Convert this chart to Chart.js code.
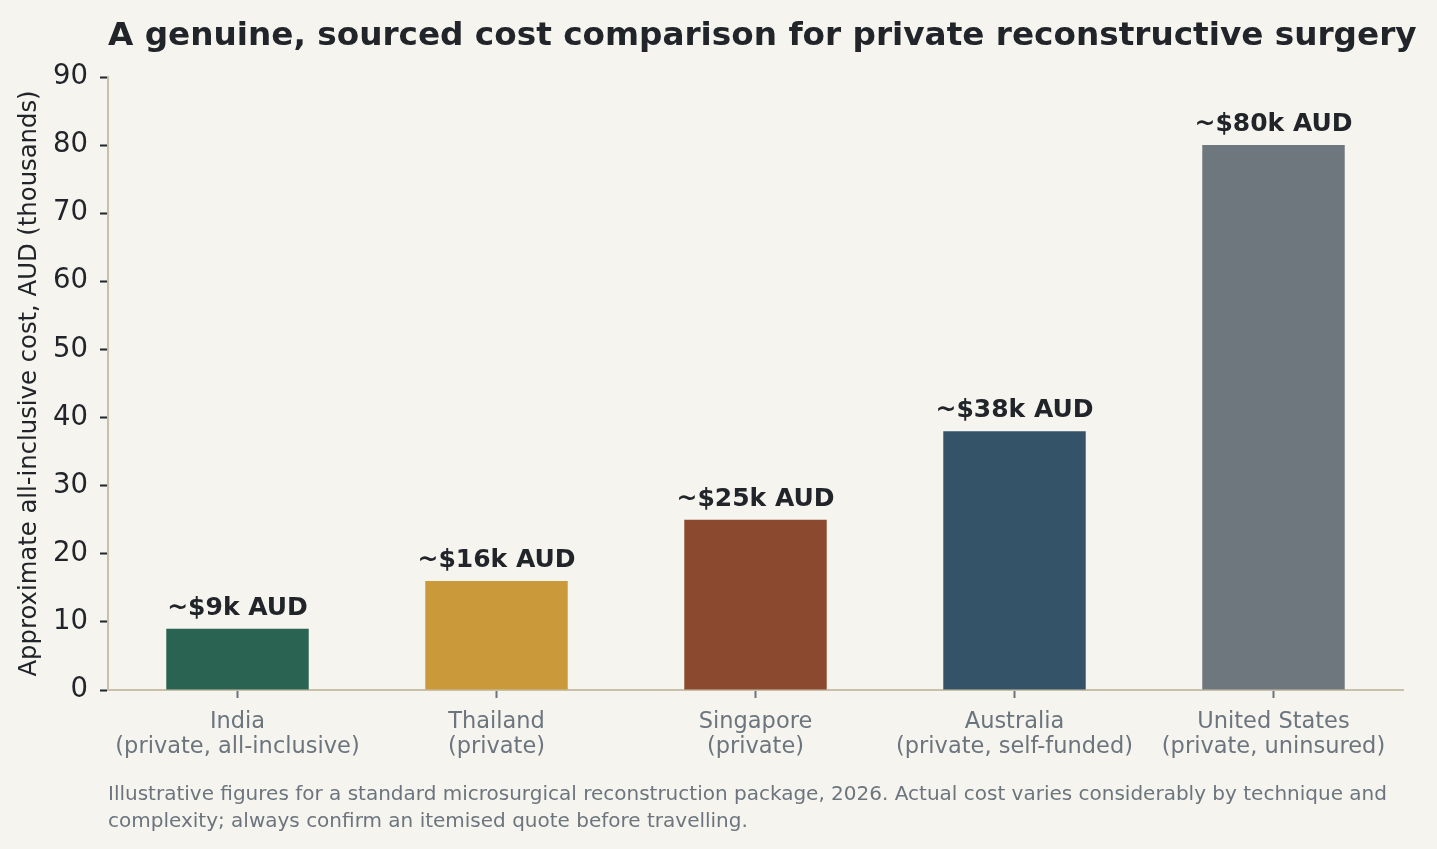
<!DOCTYPE html>
<html lang="en">
<head>
    <meta charset="UTF-8">
    <title>Reconstructive surgery cost comparison</title>
    <style>
        html, body {
            margin: 0;
            padding: 0;
            background-color: #f5f4ef;
        }
        #chart-container {
            width: 1437px;
            height: 849px;
            position: relative;
        }
    </style>
    <script src="https://cdn.jsdelivr.net/npm/chart.js"></script>
</head>
<body>
    <div id="chart-container">
        <canvas id="cost-chart"></canvas>
    </div>
    <script>
        // data
        const countries = [
            ['India', '(private, all-inclusive)'],
            ['Thailand', '(private)'],
            ['Singapore', '(private)'],
            ['Australia', '(private, self-funded)'],
            ['United States', '(private, uninsured)']
        ];
        const costs = [9, 16, 25, 38, 80];
        const costLabels = ['~$9k AUD', '~$16k AUD', '~$25k AUD', '~$38k AUD', '~$80k AUD'];
        const barColors = ['#2a6352', '#c9993a', '#8b4a2f', '#345369', '#6e767e'];
        const yMax = 90;
        const yStep = 10;

        const titleText = 'A genuine, sourced cost comparison for private reconstructive surgery';
        const noteLines = [
            'Illustrative figures for a standard microsurgical reconstruction package, 2026. Actual cost varies considerably by technique and',
            'complexity; always confirm an itemised quote before travelling.'
        ];

        const FONT = "'DejaVu Sans', sans-serif";

        // title, bar value labels and footnote
        const annotations = {
            id: 'annotations',
            afterDatasetsDraw(chart) {
                const ctx = chart.ctx;
                ctx.save();
                ctx.fillStyle = '#212529';
                ctx.font = 'bold 25px ' + FONT;
                ctx.textAlign = 'center';
                ctx.textBaseline = 'alphabetic';
                chart.getDatasetMeta(0).data.forEach(function(bar, i) {
                    ctx.fillText(costLabels[i], bar.x, bar.y - 14);
                });
                ctx.restore();
            },
            afterDraw(chart) {
                const ctx = chart.ctx;
                const left = chart.chartArea.left;
                ctx.save();
                ctx.textAlign = 'left';
                ctx.textBaseline = 'alphabetic';
                ctx.fillStyle = '#212529';
                ctx.font = 'bold 32.7px ' + FONT;
                ctx.fillText(titleText, left, 45);
                ctx.fillStyle = '#6c757d';
                ctx.font = '20px ' + FONT;
                noteLines.forEach(function(line, i) {
                    ctx.fillText(line, left, 800 + i * 27);
                });
                ctx.restore();
            }
        };

        const ctx = document.getElementById('cost-chart').getContext('2d');
        const chart = new Chart(ctx, {
            type: 'bar',
            data: {
                labels: countries,
                datasets: [{
                    data: costs,
                    backgroundColor: barColors,
                    borderWidth: 0,
                    barPercentage: 0.55,
                    categoryPercentage: 1.0
                }]
            },
            options: {
                responsive: true,
                maintainAspectRatio: false,
                animation: false,
                layout: {
                    padding: { left: 0, right: 34, top: 77, bottom: 0 }
                },
                plugins: {
                    legend: { display: false },
                    tooltip: { enabled: false }
                },
                scales: {
                    x: {
                        offset: true,
                        grid: {
                            display: true,
                            offset: false,
                            drawOnChartArea: false,
                            drawTicks: true,
                            tickLength: 8,
                            tickWidth: 2,
                            tickColor: '#6c757d'
                        },
                        border: { color: '#c9c0a9', width: 2 },
                        ticks: {
                            color: '#6c757d',
                            font: { family: FONT, size: 22.5, lineHeight: 1.13 },
                            padding: 11,
                            maxRotation: 0,
                            autoSkip: false
                        },
                        afterFit(scale) { scale.height = 159; }
                    },
                    y: {
                        min: 0,
                        max: yMax,
                        grid: {
                            display: true,
                            drawOnChartArea: false,
                            drawTicks: true,
                            tickLength: 8,
                            tickWidth: 2,
                            tickColor: '#212529'
                        },
                        border: { color: '#c9c0a9', width: 2 },
                        ticks: {
                            stepSize: yStep,
                            color: '#212529',
                            font: { family: FONT, size: 27.5 },
                            padding: 12
                        },
                        title: {
                            display: true,
                            text: 'Approximate all-inclusive cost, AUD (thousands)',
                            color: '#212529',
                            font: { family: FONT, size: 24.3, lineHeight: 1.2 },
                            padding: { top: 15, bottom: 0 }
                        },
                        afterFit(scale) { scale.width = 108; }
                    }
                }
            },
            plugins: [annotations]
        });
    </script>
</body>
</html>
